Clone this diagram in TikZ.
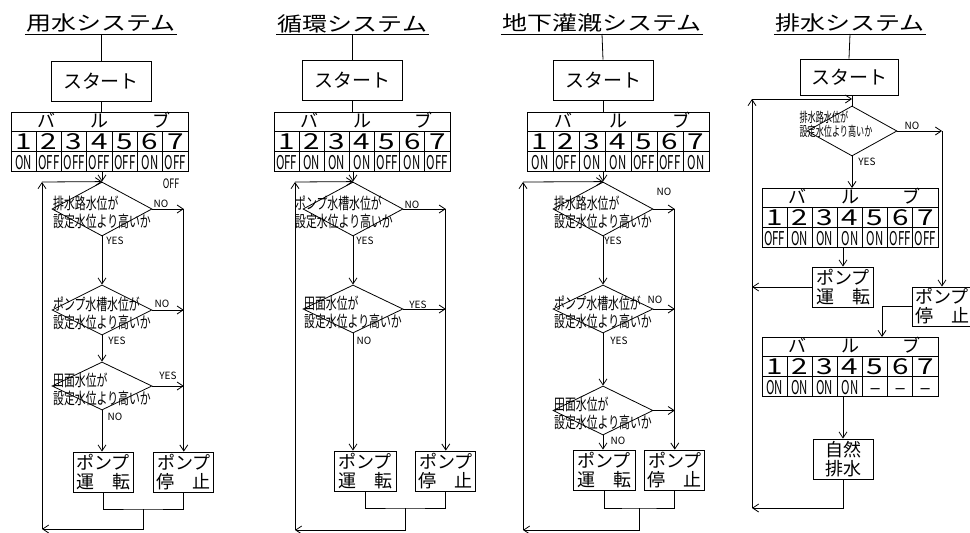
\documentclass[tikz,border=0pt]{standalone}
\usepackage{fontspec}
\setmainfont{Noto Sans CJK JP}
\newfontfamily\wideJP[FakeStretch=1.25]{Noto Sans CJK JP}
\newfontfamily\digitJP[FakeStretch=1.35]{Noto Sans CJK JP}
\newfontfamily\narrowJP[FakeStretch=0.68]{Noto Sans CJK JP}
\newfontfamily\condJP[FakeStretch=0.6]{Noto Sans CJK JP}
\usetikzlibrary{arrows.meta,positioning,shapes.geometric}
\tikzset{ttl/.style={anchor=south,inner sep=1pt,font=\wideJP\fontsize{20}{22}\selectfont},sbox/.style={draw,minimum width=100pt,minimum height=40pt,inner sep=0pt,font=\fontsize{19}{19}\selectfont},pbox/.style={draw,minimum width=60pt,minimum height=40pt,inner sep=0pt,align=center,font=\fontsize{18}{19}\selectfont},vtab/.style={draw,minimum height=59pt,inner sep=0pt},hd/.style={anchor=base,inner sep=0pt,text height=15pt,text depth=0pt,font=\fontsize{18}{18}\selectfont},num/.style={anchor=base,inner sep=0pt,text height=16pt,text depth=0pt,font=\digitJP\fontsize{22}{22}\selectfont},st/.style={anchor=base,inner sep=0pt,text height=14pt,text depth=0pt,font=\condJP\fontsize{19}{19}\selectfont},dia/.style={draw,diamond,minimum width=100pt,inner sep=0pt},dtext/.style={inner sep=0pt,align=left,yshift=-3pt,font=\narrowJP\fontsize{16}{18}\selectfont},dtextsm/.style={inner sep=0pt,align=left,xshift=-16pt,yshift=7pt,font=\condJP\fontsize{13.5}{14}\selectfont},lab/.style={inner sep=0pt,font=\fontsize{10}{10}\selectfont},arrow/.style={-{Straight Barb[length=6pt,width=8pt]}}}
\newcommand{\valvetable}[5]{% name, x, y, width, states
  \node[vtab,minimum width=#4pt,anchor=north west] (#1) at (#2,#3) {};
  \draw (#2,#3+19.7) -- ++(#4,0);
  \draw (#2,#3+39.3) -- ++(#4,0);
  \foreach \k in {1,...,6} \draw ({#2+\k*#4/7},#3+19.7) -- ++(0,39.3);
  \node[hd] (#1h1) at ({#2+0.2*#4},#3+15.5) {バ};
  \node[hd] (#1h2) at ({#2+0.5*#4},#3+15.5) {ル};
  \node[hd] (#1h3) at ({#2+0.85*#4},#3+15.5) {ブ};
  \foreach \s [count=\k] in {#5} {
    \node[num] (#1n\k) at ({#2+(\k-0.5)*#4/7},#3+37) {\k};
    \node[st] (#1s\k) at ({#2+(\k-0.5)*#4/7},#3+57.2) {\s};
  }%
}
\begin{document}
\begin{tikzpicture}[x=1pt,y=-1pt,line width=0.8pt]
\path[fill=white,use as bounding box] (0,0) rectangle (970,533);

% 用水システム
\node[ttl] (t1) at (101,34) {用水システム};
\draw (t1.south west) -- (t1.south east);
\node[sbox] (s1) at (101,81) {スタート};
\draw (t1.south) -- (s1.north);
\valvetable{v1}{11}{112}{177}{ON,OFF,OFF,OFF,OFF,ON,OFF}
\draw (s1.south) -- (s1.south |- v1.north);
\node[dia,minimum height=54pt,label={[dtext]center:{排水路水位が\\設定水位より高いか}}] (d11) at (102,209) {};
\node[dia,minimum height=50pt,label={[dtext]center:{ポンプ水槽水位が\\設定水位より高いか}}] (d12) at (102,310) {};
\node[dia,minimum height=48pt,label={[dtext]center:{田面水位が\\設定水位より高いか}}] (d13) at (102,386) {};
\node[pbox] (r1) at (103,472) {ポンプ\\運　転};
\node[pbox,right=20pt of r1] (p1) {ポンプ\\停　止};
\draw[arrow] (d11.north |- v1.south) -- (d11.north);
\draw[arrow] (d11.south) -- (d12.north);
\draw[arrow] (d12.south) -- (d13.north);
\draw[arrow] (d13.south) -- (d13.south |- r1.north);
\draw[arrow] (d11.east) -- (d11.east -| p1.north);
\draw[arrow] (d12.east) -- (d12.east -| p1.north);
\draw[arrow] (d13.east) -- (d13.east -| p1.north);
\draw[arrow] (d11.east -| p1.north) -- (p1.north);
\coordinate (m1) at (143,509);
\coordinate (lb1) at (42,529);
\coordinate (lt1) at (42,182);
\draw (r1.south) |- (m1) -| (p1.south);
\draw[arrow] (m1) |- (lb1);
\draw[arrow] (lb1) -- (lt1);
\draw[arrow] (lt1) -- (d11.north);
\node[lab,font=\narrowJP\fontsize{13}{13}\selectfont] (o1) at (171,184) {OFF};
\node[lab] (n11) at (161,204) {NO};
\node[lab] (y11) at (115,241) {YES};
\node[lab] (n12) at (162,304) {NO};
\node[lab] (y12) at (117,341) {YES};
\node[lab] (y13) at (168,376) {YES};
\node[lab] (n13) at (115,417) {NO};

% 循環システム
\node[ttl] (t2) at (352.5,34) {循環システム};
\draw (t2.south west) -- (t2.south east);
\node[sbox] (s2) at (352.5,80) {スタート};
\draw (t2.south) -- (s2.north);
\valvetable{v2}{274}{112}{176}{OFF,ON,ON,ON,OFF,ON,OFF}
\draw (s2.south) -- (s2.south |- v2.north);
\node[dia,minimum height=54pt,label={[dtext,xshift=-9pt]center:{ポンプ水槽水位が\\設定水位より高いか}}] (d21) at (353,209) {};
\node[dia,minimum height=48pt,label={[dtext]center:{田面水位が\\設定水位より高いか}}] (d22) at (353,309) {};
\node[pbox,minimum width=62pt] (r2) at (365,471) {ポンプ\\運　転};
\node[pbox,right=19pt of r2] (p2) {ポンプ\\停　止};
\draw[arrow] (d21.north |- v2.south) -- (d21.north);
\draw[arrow] (d21.south) -- (d22.north);
\draw[arrow] (d22.south) -- (d22.south |- r2.north);
\draw[arrow] (d21.east) -- (d21.east -| p2.north);
\draw[arrow] (d22.east) -- (d22.east -| p2.north);
\draw[arrow] (d21.east -| p2.north) -- (p2.north);
\coordinate (m2) at (405,508);
\coordinate (lb2) at (295,530);
\coordinate (lt2) at (295,182);
\draw (r2.south) |- (m2) -| (p2.south);
\draw[arrow] (m2) |- (lb2);
\draw[arrow] (lb2) -- (lt2);
\draw[arrow] (lt2) -- (d21.north);
\node[lab] (n21) at (412,205) {NO};
\node[lab] (y21) at (365,241) {YES};
\node[lab] (y22) at (418,305) {YES};
\node[lab] (n22) at (364,341) {NO};

% 地下灌漑システム
\node[ttl] (t3) at (602,34) {地下灌漑システム};
\draw (t3.south west) -- (t3.south east);
\node[sbox] (s3) at (603,80) {スタート};
\draw (t3.south) -- (s3.north);
\valvetable{v3}{527}{112}{182}{ON,OFF,ON,ON,OFF,OFF,ON}
\draw (s3.south) -- (s3.south |- v3.north);
\node[dia,minimum height=54pt,label={[dtext]center:{排水路水位が\\設定水位より高いか}}] (d31) at (603,209) {};
\node[dia,minimum height=48pt,label={[dtext]center:{ポンプ水槽水位が\\設定水位より高いか}}] (d32) at (603,309) {};
\node[dia,minimum height=49pt,label={[dtext]center:{田面水位が\\設定水位より高いか}}] (d33) at (603,410.5) {};
\node[pbox,minimum width=62pt] (r3) at (604,470) {ポンプ\\運　転};
\node[pbox,right=9pt of r3] (p3) {ポンプ\\停　止};
\draw[arrow] (d31.north |- v3.south) -- (d31.north);
\draw[arrow] (d31.south) -- (d32.north);
\draw[arrow] (d32.south) -- (d33.north);
\draw[arrow] (d33.south) -- (d33.south |- r3.north);
\draw[arrow] (d31.east) -- (d31.east -| p3.north);
\draw[arrow] (d32.east) -- (d32.east -| p3.north);
\draw[arrow] (d33.east) -- (d33.east -| p3.north);
\draw[arrow] (d31.east -| p3.north) -- (p3.north);
\coordinate (m3) at (639,508);
\coordinate (lb3) at (523,530);
\coordinate (lt3) at (523,182);
\draw (r3.south) |- (m3) -| (p3.south);
\draw[arrow] (m3) |- (lb3);
\draw[arrow] (lb3) -- (lt3);
\draw[arrow] (lt3) -- (d31.north);
\node[lab] (n31) at (664,192) {NO};
\node[lab] (y31) at (613,241) {YES};
\node[lab] (n32) at (655,300) {NO};
\node[lab] (y32) at (619,341) {YES};
\node[lab] (n33) at (618,441) {NO};

% 排水システム
\node[ttl] (t4) at (850,34) {排水システム};
\draw (t4.south west) -- (t4.south east);
\node[sbox,minimum width=98pt,minimum height=36pt] (s4) at (849,77) {スタート};
\draw (t4.south) -- (s4.north);
\node[dia,minimum width=90pt,minimum height=50pt,label={[dtextsm]center:{排水路水位が\\設定水位より高いか}}] (d4) at (852,131) {};
\draw (s4.south -| d4.north) -- (d4.north);
\valvetable{v4}{762}{188}{176}{OFF,ON,ON,ON,ON,OFF,OFF}
\node[pbox,minimum width=61pt] (r4) at (843,287) {ポンプ\\運　転};
\node[pbox,minimum height=39pt] (p4) at (942,306.5) {ポンプ\\停　止};
\valvetable{v5}{762}{337}{176}{ON,ON,ON,ON,—,—,—}
\node[pbox] (w4) at (843,459) {自然\\排水};
\coordinate (k4) at (882,337);
\coordinate (lb4) at (752,508);
\coordinate (lt4) at (752,99);
\draw[arrow] (d4.south) -- (d4.south |- v4.north);
\draw[arrow] (r4.north |- v4.south) -- (r4.north);
\draw[arrow] (r4.west) -- (r4.west -| lt4);
\draw[arrow] (d4.east) -- (d4.east -| p4.north);
\draw[arrow] (d4.east -| p4.north) -- (p4.north);
\draw[arrow] (p4.west) -| (k4);
\draw[arrow] (w4.north |- v5.south) -- (w4.north);
\draw[arrow] (w4.south) |- (lb4);
\draw[arrow] (lb4) -- (lt4);
\draw[arrow] (lt4) -- (lt4 -| d4.north);
\node[lab] (n4) at (912,126) {NO};
\node[lab] (y4) at (867,162) {YES};
\end{tikzpicture}
\end{document}
